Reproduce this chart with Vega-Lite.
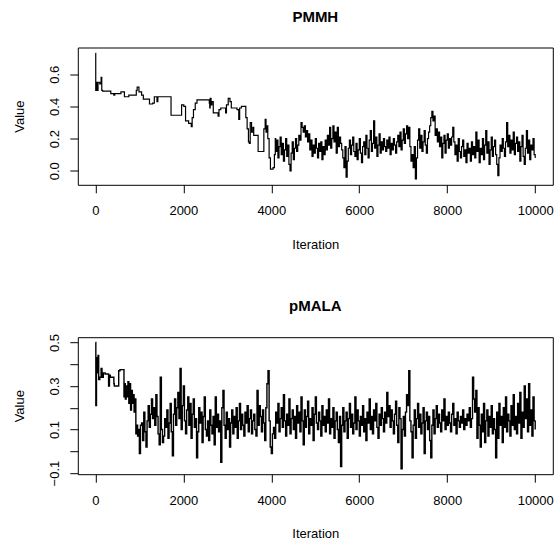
{
"$schema": "https://vega.github.io/schema/vega-lite/v6.json",
"padding": {"left": 11.8, "top": 8.5, "right": 0, "bottom": 0},
"background": "white",
"bounds": "flush",
"spacing": 151.7,
"config": {
  "view": {"stroke": "black", "strokeWidth": 1},
  "font": "Liberation Sans",
  "axis": {"domain": false, "grid": false, "tickColor": "black", "tickSize": 8, "labelColor": "black", "labelFont": "Liberation Sans", "labelFontSize": 13, "titleFont": "Liberation Sans", "titleFontSize": 13, "titleFontWeight": "normal", "titleColor": "black", "labelFlush": false, "labelOverlap": false},
  "axisX": {"labelPadding": 12, "labelBaseline": "top", "titleBaseline": "middle", "titleAnchor": "middle"},
  "axisY": {"labelAngle": -90, "labelAlign": "center", "labelBaseline": "alphabetic", "labelPadding": 11, "titleBaseline": "middle", "titleAngle": -90, "titleAlign": "center"},
  "title": {"font": "Liberation Sans", "fontSize": 15, "fontWeight": "bold", "color": "black", "anchor": "middle", "frame": "group", "baseline": "middle"}
},
"datasets": {
"pmmh": [
{"i":0,"v":0.73},{"i":8,"v":0.50},{"i":30,"v":0.55},{"i":45,"v":0.50},{"i":60,"v":0.55},{"i":100,"v":0.54},{"i":130,"v":0.58},{"i":145,"v":0.50},{"i":165,"v":0.495},{"i":350,"v":0.48},{"i":420,"v":0.47},{"i":440,"v":0.48},{"i":580,"v":0.49},{"i":660,"v":0.46},{"i":760,"v":0.47},{"i":930,"v":0.50},{"i":950,"v":0.52},{"i":990,"v":0.49},{"i":1050,"v":0.47},{"i":1090,"v":0.445},{"i":1230,"v":0.415},{"i":1300,"v":0.42},{"i":1340,"v":0.46},{"i":1400,"v":0.43},{"i":1420,"v":0.46},{"i":1720,"v":0.345},{"i":1960,"v":0.41},{"i":2010,"v":0.40},{"i":2050,"v":0.31},{"i":2120,"v":0.295},{"i":2180,"v":0.275},{"i":2200,"v":0.33},{"i":2230,"v":0.38},{"i":2270,"v":0.42},{"i":2310,"v":0.44},{"i":2590,"v":0.42},{"i":2600,"v":0.39},{"i":2610,"v":0.45},{"i":2630,"v":0.41},{"i":2650,"v":0.43},{"i":2680,"v":0.36},{"i":2790,"v":0.34},{"i":2810,"v":0.38},{"i":2850,"v":0.39},{"i":2960,"v":0.36},{"i":2980,"v":0.41},{"i":3020,"v":0.45},{"i":3060,"v":0.43},{"i":3090,"v":0.39},{"i":3220,"v":0.38},{"i":3260,"v":0.32},{"i":3280,"v":0.39},{"i":3320,"v":0.40},{"i":3420,"v":0.33},{"i":3450,"v":0.26},{"i":3480,"v":0.18},{"i":3500,"v":0.17},{"i":3520,"v":0.30},{"i":3550,"v":0.24},{"i":3580,"v":0.27},{"i":3600,"v":0.22},{"i":3700,"v":0.12},{"i":3800,"v":0.12},{"i":3830,"v":0.26},{"i":3860,"v":0.32},{"i":3880,"v":0.24},{"i":3900,"v":0.28},{"i":3920,"v":0.20},{"i":3950,"v":0.08},{"i":3980,"v":0.01},{"i":4040,"v":0.02},{"i":4070,"v":0.10},{"i":4090,"v":0.20},
{"i":4100,"v":0.12},{"i":4125,"v":0.19},{"i":4150,"v":0.08},{"i":4175,"v":0.15},{"i":4200,"v":0.21},{"i":4225,"v":0.10},{"i":4250,"v":0.17},{"i":4275,"v":0.06},{"i":4300,"v":0.13},{"i":4325,"v":0.20},{"i":4350,"v":0.09},{"i":4375,"v":0.16},{"i":4400,"v":0.04},{"i":4425,"v":0.00},{"i":4450,"v":0.11},{"i":4475,"v":0.18},{"i":4500,"v":0.07},{"i":4525,"v":0.14},{"i":4550,"v":0.20},{"i":4575,"v":0.12},
{"i":4600,"v":0.16},{"i":4625,"v":0.22},{"i":4650,"v":0.19},{"i":4675,"v":0.30},{"i":4700,"v":0.27},{"i":4725,"v":0.24},{"i":4750,"v":0.28},{"i":4775,"v":0.21},{"i":4800,"v":0.25},{"i":4825,"v":0.18},{"i":4850,"v":0.23},{"i":4875,"v":0.13},{"i":4900,"v":0.19},{"i":4925,"v":0.09},{"i":4950,"v":0.16},{"i":4975,"v":0.11},{"i":5000,"v":0.20},{"i":5025,"v":0.14},{"i":5050,"v":0.08},{"i":5075,"v":0.17},
{"i":5100,"v":0.12},{"i":5125,"v":0.18},{"i":5150,"v":0.07},{"i":5175,"v":0.15},{"i":5200,"v":0.10},{"i":5225,"v":0.19},{"i":5250,"v":0.13},{"i":5275,"v":0.22},{"i":5300,"v":0.16},{"i":5325,"v":0.27},{"i":5350,"v":0.14},{"i":5375,"v":0.20},{"i":5400,"v":0.28},{"i":5425,"v":0.18},{"i":5450,"v":0.24},{"i":5475,"v":0.11},{"i":5500,"v":0.27},{"i":5525,"v":0.15},{"i":5550,"v":0.21},{"i":5575,"v":0.17},
{"i":5600,"v":0.13},{"i":5625,"v":0.08},{"i":5650,"v":0.02},{"i":5675,"v":0.15},{"i":5700,"v":-0.04},{"i":5725,"v":0.06},{"i":5750,"v":0.14},{"i":5775,"v":0.19},{"i":5800,"v":0.10},{"i":5825,"v":0.16},{"i":5850,"v":0.21},{"i":5875,"v":0.12},{"i":5900,"v":0.09},{"i":5925,"v":0.17},{"i":5950,"v":0.07},{"i":5975,"v":0.13},{"i":6000,"v":0.20},{"i":6025,"v":0.11},{"i":6050,"v":0.05},{"i":6075,"v":0.15},
{"i":6100,"v":0.18},{"i":6125,"v":0.10},{"i":6150,"v":0.22},{"i":6175,"v":0.14},{"i":6200,"v":0.08},{"i":6225,"v":0.19},{"i":6250,"v":0.25},{"i":6275,"v":0.12},{"i":6300,"v":0.17},{"i":6325,"v":0.31},{"i":6350,"v":0.14},{"i":6375,"v":0.21},{"i":6400,"v":0.09},{"i":6425,"v":0.16},{"i":6450,"v":0.23},{"i":6475,"v":0.11},{"i":6500,"v":0.18},{"i":6525,"v":0.13},{"i":6550,"v":0.20},{"i":6575,"v":0.15},
{"i":6600,"v":0.12},{"i":6625,"v":0.19},{"i":6650,"v":0.14},{"i":6675,"v":0.21},{"i":6700,"v":0.10},{"i":6725,"v":0.17},{"i":6750,"v":0.13},{"i":6775,"v":0.20},{"i":6800,"v":0.16},{"i":6825,"v":0.11},{"i":6850,"v":0.18},{"i":6875,"v":0.22},{"i":6900,"v":0.15},{"i":6925,"v":0.24},{"i":6950,"v":0.13},{"i":6975,"v":0.19},{"i":7000,"v":0.26},{"i":7025,"v":0.17},{"i":7050,"v":0.23},{"i":7075,"v":0.28},
{"i":7100,"v":0.20},{"i":7125,"v":0.27},{"i":7150,"v":0.15},{"i":7175,"v":0.06},{"i":7200,"v":0.10},{"i":7225,"v":0.02},{"i":7250,"v":0.15},{"i":7275,"v":-0.05},{"i":7300,"v":0.08},{"i":7325,"v":0.19},{"i":7350,"v":0.26},{"i":7375,"v":0.14},{"i":7400,"v":0.22},{"i":7425,"v":0.12},{"i":7450,"v":0.18},{"i":7475,"v":0.25},{"i":7500,"v":0.16},{"i":7525,"v":0.11},{"i":7550,"v":0.20},{"i":7575,"v":0.24},
{"i":7600,"v":0.28},{"i":7625,"v":0.33},{"i":7650,"v":0.37},{"i":7675,"v":0.31},{"i":7700,"v":0.34},{"i":7725,"v":0.22},{"i":7750,"v":0.26},{"i":7775,"v":0.18},{"i":7800,"v":0.24},{"i":7825,"v":0.15},{"i":7850,"v":0.21},{"i":7875,"v":0.08},{"i":7900,"v":0.17},{"i":7925,"v":0.22},{"i":7950,"v":0.11},{"i":7975,"v":0.19},{"i":8000,"v":0.23},{"i":8025,"v":0.14},{"i":8050,"v":0.20},{"i":8075,"v":0.16},
{"i":8100,"v":0.21},{"i":8125,"v":0.27},{"i":8150,"v":0.18},{"i":8175,"v":0.10},{"i":8200,"v":0.16},{"i":8225,"v":0.06},{"i":8250,"v":0.20},{"i":8275,"v":0.12},{"i":8300,"v":0.08},{"i":8325,"v":0.15},{"i":8350,"v":0.19},{"i":8375,"v":0.09},{"i":8400,"v":0.13},{"i":8425,"v":0.05},{"i":8450,"v":0.17},{"i":8475,"v":0.11},{"i":8500,"v":0.14},{"i":8525,"v":0.06},{"i":8550,"v":0.18},{"i":8575,"v":0.10},
{"i":8600,"v":0.15},{"i":8625,"v":0.08},{"i":8650,"v":0.24},{"i":8675,"v":0.12},{"i":8700,"v":0.19},{"i":8725,"v":0.05},{"i":8750,"v":0.14},{"i":8775,"v":0.10},{"i":8800,"v":0.20},{"i":8825,"v":0.07},{"i":8850,"v":0.16},{"i":8875,"v":0.25},{"i":8900,"v":0.11},{"i":8925,"v":0.18},{"i":8950,"v":0.04},{"i":8975,"v":0.13},{"i":9000,"v":0.21},{"i":9025,"v":0.09},{"i":9050,"v":0.15},{"i":9075,"v":0.19},
{"i":9100,"v":0.10},{"i":9125,"v":0.04},{"i":9150,"v":-0.03},{"i":9175,"v":0.08},{"i":9200,"v":0.16},{"i":9225,"v":0.12},{"i":9250,"v":0.20},{"i":9275,"v":0.14},{"i":9300,"v":0.09},{"i":9325,"v":0.18},{"i":9350,"v":0.30},{"i":9375,"v":0.15},{"i":9400,"v":0.22},{"i":9425,"v":0.11},{"i":9450,"v":0.19},{"i":9475,"v":0.13},{"i":9500,"v":0.24},{"i":9525,"v":0.10},{"i":9550,"v":0.17},{"i":9575,"v":0.21},
{"i":9600,"v":0.12},{"i":9625,"v":0.18},{"i":9650,"v":0.06},{"i":9675,"v":0.15},{"i":9700,"v":0.22},{"i":9725,"v":0.09},{"i":9750,"v":0.04},{"i":9775,"v":0.14},{"i":9800,"v":0.25},{"i":9825,"v":0.11},{"i":9850,"v":0.19},{"i":9875,"v":0.07},{"i":9900,"v":0.16},{"i":9925,"v":0.13},{"i":9950,"v":0.20},{"i":9975,"v":0.10},{"i":10000,"v":0.08}
],
"pmala": [
{"i":0,"v":0.50},{"i":10,"v":0.21},{"i":25,"v":0.43},{"i":45,"v":0.36},{"i":60,"v":0.44},{"i":75,"v":0.33},{"i":100,"v":0.34},{"i":130,"v":0.38},{"i":150,"v":0.34},{"i":180,"v":0.36},{"i":220,"v":0.355},{"i":300,"v":0.30},{"i":320,"v":0.35},{"i":340,"v":0.34},{"i":420,"v":0.31},{"i":430,"v":0.30},{"i":530,"v":0.37},{"i":560,"v":0.375},{"i":650,"v":0.25},{"i":660,"v":0.31},{"i":680,"v":0.24},{"i":700,"v":0.30},{"i":720,"v":0.25},{"i":740,"v":0.32},{"i":760,"v":0.22},{"i":780,"v":0.31},{"i":800,"v":0.19},{"i":820,"v":0.28},{"i":840,"v":0.22},{"i":860,"v":0.26},{"i":880,"v":0.18},{"i":900,"v":0.24},{"i":920,"v":0.08},{"i":940,"v":0.12},{"i":960,"v":0.07},{"i":980,"v":0.10},{"i":1000,"v":-0.01},{"i":1025,"v":0.12},
{"i":1050,"v":0.13},{"i":1075,"v":0.05},{"i":1100,"v":0.18},{"i":1125,"v":0.09},{"i":1150,"v":0.02},{"i":1175,"v":0.14},{"i":1200,"v":0.21},{"i":1225,"v":0.11},{"i":1250,"v":0.17},{"i":1275,"v":0.24},{"i":1300,"v":0.15},{"i":1325,"v":0.20},{"i":1350,"v":0.12},{"i":1375,"v":0.26},{"i":1400,"v":0.16},{"i":1425,"v":0.08},{"i":1450,"v":0.03},{"i":1475,"v":0.34},{"i":1500,"v":0.10},{"i":1525,"v":0.04},
{"i":1550,"v":0.07},{"i":1575,"v":0.15},{"i":1600,"v":0.11},{"i":1625,"v":0.19},{"i":1650,"v":0.06},{"i":1675,"v":0.13},{"i":1700,"v":0.22},{"i":1725,"v":0.09},{"i":1750,"v":-0.02},{"i":1775,"v":0.17},{"i":1800,"v":0.24},{"i":1825,"v":0.12},{"i":1850,"v":0.20},{"i":1875,"v":0.27},{"i":1900,"v":0.15},{"i":1925,"v":0.38},{"i":1950,"v":0.10},{"i":1975,"v":0.21},{"i":2000,"v":0.30},{"i":2025,"v":0.14},
{"i":2050,"v":0.08},{"i":2075,"v":0.19},{"i":2100,"v":0.25},{"i":2125,"v":0.12},{"i":2150,"v":0.22},{"i":2175,"v":0.06},{"i":2200,"v":0.17},{"i":2225,"v":0.24},{"i":2250,"v":0.11},{"i":2275,"v":0.15},{"i":2300,"v":-0.03},{"i":2325,"v":0.09},{"i":2350,"v":0.20},{"i":2375,"v":0.13},{"i":2400,"v":0.18},{"i":2425,"v":0.04},{"i":2450,"v":0.16},{"i":2475,"v":0.25},{"i":2500,"v":0.10},{"i":2525,"v":0.07},
{"i":2550,"v":0.14},{"i":2575,"v":0.05},{"i":2600,"v":0.19},{"i":2625,"v":0.12},{"i":2650,"v":0.08},{"i":2675,"v":0.16},{"i":2700,"v":0.03},{"i":2725,"v":0.25},{"i":2750,"v":0.11},{"i":2775,"v":0.17},{"i":2800,"v":0.09},{"i":2825,"v":0.14},{"i":2850,"v":-0.05},{"i":2875,"v":0.20},{"i":2900,"v":0.28},{"i":2925,"v":0.12},{"i":2950,"v":0.06},{"i":2975,"v":0.18},{"i":3000,"v":0.10},{"i":3025,"v":0.15},
{"i":3050,"v":0.02},{"i":3075,"v":0.13},{"i":3100,"v":0.19},{"i":3125,"v":0.08},{"i":3150,"v":0.16},{"i":3175,"v":0.11},{"i":3200,"v":0.20},{"i":3225,"v":0.06},{"i":3250,"v":0.14},{"i":3275,"v":0.22},{"i":3300,"v":0.10},{"i":3325,"v":0.17},{"i":3350,"v":0.12},{"i":3375,"v":0.07},{"i":3400,"v":0.18},{"i":3425,"v":0.13},{"i":3450,"v":0.21},{"i":3475,"v":0.09},{"i":3500,"v":0.15},{"i":3525,"v":0.19},
{"i":3550,"v":0.08},{"i":3575,"v":0.14},{"i":3600,"v":0.17},{"i":3625,"v":0.10},{"i":3650,"v":0.07},{"i":3675,"v":0.28},{"i":3700,"v":0.12},{"i":3725,"v":0.21},{"i":3750,"v":0.16},{"i":3775,"v":0.09},{"i":3800,"v":0.19},{"i":3825,"v":0.13},{"i":3850,"v":0.05},{"i":3875,"v":0.20},{"i":3900,"v":0.31},{"i":3925,"v":0.37},{"i":3950,"v":0.14},{"i":3975,"v":0.02},{"i":4000,"v":-0.01},{"i":4025,"v":0.08},
{"i":4050,"v":0.11},{"i":4075,"v":0.06},{"i":4100,"v":0.18},{"i":4125,"v":0.13},{"i":4150,"v":0.22},{"i":4175,"v":0.09},{"i":4200,"v":0.15},{"i":4225,"v":0.20},{"i":4250,"v":0.11},{"i":4275,"v":0.26},{"i":4300,"v":0.14},{"i":4325,"v":0.07},{"i":4350,"v":0.17},{"i":4375,"v":0.12},{"i":4400,"v":0.24},{"i":4425,"v":0.08},{"i":4450,"v":0.15},{"i":4475,"v":0.19},{"i":4500,"v":0.10},{"i":4525,"v":0.16},
{"i":4550,"v":0.06},{"i":4575,"v":0.21},{"i":4600,"v":0.13},{"i":4625,"v":0.18},{"i":4650,"v":0.09},{"i":4675,"v":0.25},{"i":4700,"v":0.14},{"i":4725,"v":0.03},{"i":4750,"v":0.19},{"i":4775,"v":0.11},{"i":4800,"v":0.16},{"i":4825,"v":0.23},{"i":4850,"v":0.08},{"i":4875,"v":0.15},{"i":4900,"v":0.12},{"i":4925,"v":0.20},{"i":4950,"v":0.05},{"i":4975,"v":0.17},{"i":5000,"v":0.25},{"i":5025,"v":0.13},
{"i":5050,"v":0.10},{"i":5075,"v":0.18},{"i":5100,"v":0.14},{"i":5125,"v":0.07},{"i":5150,"v":0.21},{"i":5175,"v":0.12},{"i":5200,"v":0.16},{"i":5225,"v":0.09},{"i":5250,"v":0.19},{"i":5275,"v":0.13},{"i":5300,"v":0.24},{"i":5325,"v":0.08},{"i":5350,"v":0.15},{"i":5375,"v":0.11},{"i":5400,"v":0.20},{"i":5425,"v":0.06},{"i":5450,"v":0.14},{"i":5475,"v":0.18},{"i":5500,"v":0.10},{"i":5525,"v":0.04},
{"i":5550,"v":0.16},{"i":5575,"v":-0.07},{"i":5600,"v":0.12},{"i":5625,"v":0.20},{"i":5650,"v":0.09},{"i":5675,"v":0.14},{"i":5700,"v":0.18},{"i":5725,"v":0.06},{"i":5750,"v":0.15},{"i":5775,"v":0.22},{"i":5800,"v":0.11},{"i":5825,"v":0.17},{"i":5850,"v":0.08},{"i":5875,"v":0.13},{"i":5900,"v":0.25},{"i":5925,"v":0.10},{"i":5950,"v":0.19},{"i":5975,"v":0.14},{"i":6000,"v":0.07},{"i":6025,"v":0.16},
{"i":6050,"v":0.12},{"i":6075,"v":0.21},{"i":6100,"v":0.09},{"i":6125,"v":0.15},{"i":6150,"v":0.05},{"i":6175,"v":0.18},{"i":6200,"v":0.13},{"i":6225,"v":0.24},{"i":6250,"v":0.10},{"i":6275,"v":0.16},{"i":6300,"v":0.08},{"i":6325,"v":0.19},{"i":6350,"v":0.14},{"i":6375,"v":0.22},{"i":6400,"v":0.11},{"i":6425,"v":0.06},{"i":6450,"v":0.17},{"i":6475,"v":0.12},{"i":6500,"v":0.20},{"i":6525,"v":0.15},
{"i":6550,"v":0.09},{"i":6575,"v":0.18},{"i":6600,"v":0.13},{"i":6625,"v":0.27},{"i":6650,"v":0.16},{"i":6675,"v":0.21},{"i":6700,"v":0.11},{"i":6725,"v":0.19},{"i":6750,"v":0.14},{"i":6775,"v":0.08},{"i":6800,"v":0.17},{"i":6825,"v":0.23},{"i":6850,"v":0.12},{"i":6875,"v":0.04},{"i":6900,"v":0.20},{"i":6925,"v":0.15},{"i":6950,"v":-0.08},{"i":6975,"v":0.10},{"i":7000,"v":0.16},{"i":7025,"v":0.07},
{"i":7050,"v":0.18},{"i":7075,"v":0.26},{"i":7100,"v":0.21},{"i":7125,"v":0.37},{"i":7150,"v":0.14},{"i":7175,"v":0.09},{"i":7200,"v":-0.03},{"i":7225,"v":0.12},{"i":7250,"v":0.19},{"i":7275,"v":0.06},{"i":7300,"v":0.15},{"i":7325,"v":0.22},{"i":7350,"v":0.11},{"i":7375,"v":0.17},{"i":7400,"v":0.08},{"i":7425,"v":0.13},{"i":7450,"v":0.20},{"i":7475,"v":-0.01},{"i":7500,"v":0.14},{"i":7525,"v":0.18},
{"i":7550,"v":0.10},{"i":7575,"v":0.16},{"i":7600,"v":0.05},{"i":7625,"v":-0.03},{"i":7650,"v":0.12},{"i":7675,"v":0.19},{"i":7700,"v":0.08},{"i":7725,"v":0.15},{"i":7750,"v":0.21},{"i":7775,"v":0.11},{"i":7800,"v":0.17},{"i":7825,"v":0.13},{"i":7850,"v":0.09},{"i":7875,"v":0.19},{"i":7900,"v":0.14},{"i":7925,"v":0.24},{"i":7950,"v":0.10},{"i":7975,"v":0.16},{"i":8000,"v":0.12},{"i":8025,"v":0.18},
{"i":8050,"v":0.13},{"i":8075,"v":0.09},{"i":8100,"v":0.17},{"i":8125,"v":0.22},{"i":8150,"v":0.12},{"i":8175,"v":0.15},{"i":8200,"v":0.08},{"i":8225,"v":0.18},{"i":8250,"v":0.14},{"i":8275,"v":0.11},{"i":8300,"v":0.16},{"i":8325,"v":0.13},{"i":8350,"v":0.19},{"i":8375,"v":0.10},{"i":8400,"v":0.15},{"i":8425,"v":0.12},{"i":8450,"v":0.17},{"i":8475,"v":0.14},{"i":8500,"v":0.20},{"i":8525,"v":0.11},
{"i":8550,"v":0.15},{"i":8575,"v":0.34},{"i":8600,"v":0.24},{"i":8625,"v":0.18},{"i":8650,"v":0.28},{"i":8675,"v":0.06},{"i":8700,"v":0.20},{"i":8725,"v":0.12},{"i":8750,"v":0.02},{"i":8775,"v":0.17},{"i":8800,"v":0.09},{"i":8825,"v":0.22},{"i":8850,"v":0.04},{"i":8875,"v":0.14},{"i":8900,"v":0.19},{"i":8925,"v":0.07},{"i":8950,"v":0.16},{"i":8975,"v":0.11},{"i":9000,"v":0.21},{"i":9025,"v":0.08},
{"i":9050,"v":0.15},{"i":9075,"v":0.10},{"i":9100,"v":-0.03},{"i":9125,"v":0.18},{"i":9150,"v":0.06},{"i":9175,"v":0.22},{"i":9200,"v":0.12},{"i":9225,"v":0.16},{"i":9250,"v":0.04},{"i":9275,"v":0.20},{"i":9300,"v":0.11},{"i":9325,"v":0.25},{"i":9350,"v":0.09},{"i":9375,"v":0.17},{"i":9400,"v":0.14},{"i":9425,"v":0.07},{"i":9450,"v":0.21},{"i":9475,"v":0.12},{"i":9500,"v":0.26},{"i":9525,"v":0.10},
{"i":9550,"v":0.16},{"i":9575,"v":0.08},{"i":9600,"v":0.22},{"i":9625,"v":0.13},{"i":9650,"v":0.27},{"i":9675,"v":0.06},{"i":9700,"v":0.18},{"i":9725,"v":0.11},{"i":9750,"v":0.30},{"i":9775,"v":0.15},{"i":9800,"v":0.24},{"i":9825,"v":0.09},{"i":9850,"v":0.31},{"i":9875,"v":0.12},{"i":9900,"v":0.19},{"i":9925,"v":0.07},{"i":9950,"v":0.25},{"i":9975,"v":0.14},{"i":10000,"v":0.10}
]
},
"vconcat": [
{
  "title": {"text": "PMMH", "offset": 22.7},
  "width": 475, "height": 137.3,
  "data": {"name": "pmmh"},
  "mark": {"type": "line", "color": "black", "strokeWidth": 1.2, "interpolate": "step-after", "clip": true},
  "encoding": {
    "x": {"field": "i", "type": "quantitative", "scale": {"domain": [-400, 10400], "nice": false, "zero": false},
      "axis": {"values": [0, 2000, 4000, 6000, 8000, 10000], "format": "d", "title": "Iteration", "titleX": 237.5, "titleY": 59.3}},
    "y": {"field": "v", "type": "quantitative", "scale": {"domain": [-0.087, 0.766], "nice": false, "zero": false},
      "axis": {"values": [0, 0.2, 0.4, 0.6], "format": ".1f", "title": "Value", "titleX": -58.7, "titleY": 68.65}}
  }
},
{
  "title": {"text": "pMALA", "offset": 19},
  "width": 475, "height": 137,
  "data": {"name": "pmala"},
  "mark": {"type": "line", "color": "black", "strokeWidth": 1.4, "interpolate": "step-after", "clip": true},
  "encoding": {
    "x": {"field": "i", "type": "quantitative", "scale": {"domain": [-400, 10400], "nice": false, "zero": false},
      "axis": {"values": [0, 2000, 4000, 6000, 8000, 10000], "format": "d", "title": "Iteration", "titleX": 237.5, "titleY": 59}},
    "y": {"field": "v", "type": "quantitative", "scale": {"domain": [-0.105, 0.524], "nice": false, "zero": false},
      "axis": {"values": [-0.1, 0, 0.1, 0.2, 0.3, 0.4, 0.5], "labelExpr": "datum.value < -0.05 ? '\u22120.1' : abs(datum.value - 0.1) < 0.01 ? '0.1' : abs(datum.value - 0.3) < 0.01 ? '0.3' : abs(datum.value - 0.5) < 0.01 ? '0.5' : ''", "title": "Value", "titleX": -58.7, "titleY": 68.5}}
  }
}
]
}
